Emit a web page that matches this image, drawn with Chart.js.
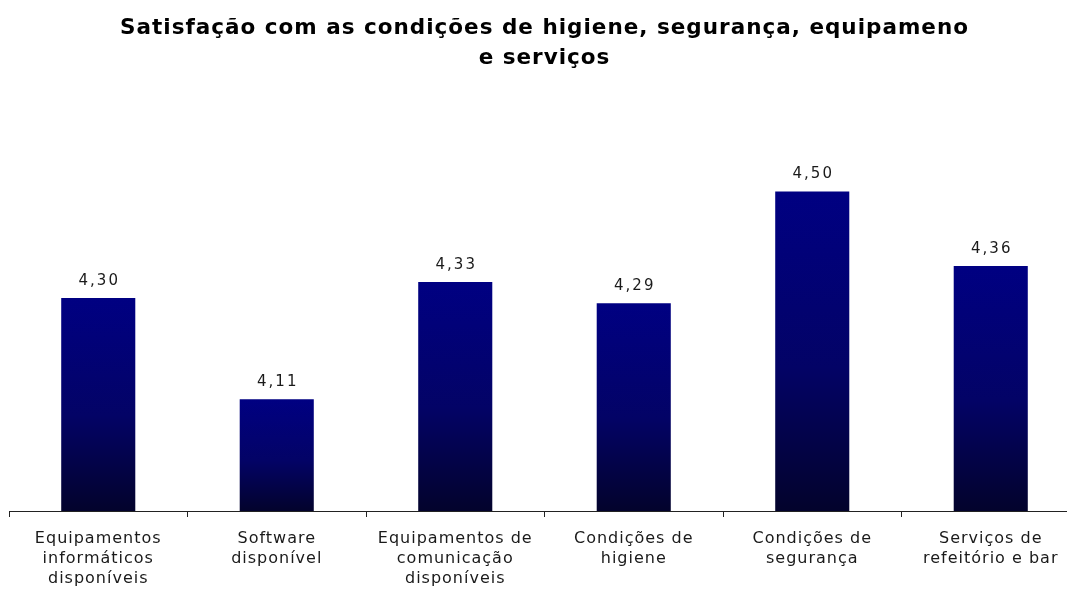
<!DOCTYPE html>
<html>
<head>
<meta charset="utf-8">
<script src="https://cdn.jsdelivr.net/npm/chart.js@4/dist/chart.umd.min.js"></script>
<style>
    html, body { margin: 0; padding: 0; background: #fff; overflow: hidden; }
    #wrap { width: 1090px; height: 601px; }
</style>
</head>
<body>
<div id="wrap"><canvas id="chart" width="1090" height="601"></canvas></div>
<script>
// Data
const categories = [
    ['Equipamentos', 'informáticos', 'disponíveis'],
    ['Software', 'disponível'],
    ['Equipamentos de', 'comunicação', 'disponíveis'],
    ['Condições de', 'higiene'],
    ['Condições de', 'segurança'],
    ['Serviços de', 'refeitório e bar']
];
const satisfaction = [4.30, 4.11, 4.33, 4.29, 4.50, 4.36];
const titleLines = [
    'Satisfação com as condições de higiene, segurança, equipameno',
    'e serviços'
];

const FONT = "'DejaVu Sans', sans-serif";

// vertical gradient for each bar: navy on top, near black at the base
function barFill(context) {
    const chart = context.chart;
    const area = chart.chartArea;
    if (!area || context.type !== 'data') return '#000080';
    const y = chart.scales.y;
    const top = y.getPixelForValue(context.raw);
    const bottom = y.getPixelForValue(y.min);
    const g = chart.ctx.createLinearGradient(0, top, 0, bottom);
    g.addColorStop(0, '#000082');
    g.addColorStop(0.55, '#030366');
    g.addColorStop(1, '#03032c');
    return g;
}

// the original font is a wide Verdana, so open up the DejaVu text a little
const wideText = {
    id: 'wideText',
    beforeUpdate(chart) { chart.ctx.letterSpacing = '1px'; },
    beforeDraw(chart) { chart.ctx.letterSpacing = '1px'; }
};

// value labels above the bars, comma as decimal separator
const valueLabels = {
    id: 'valueLabels',
    afterDatasetsDraw(chart) {
        const ctx = chart.ctx;
        const meta = chart.getDatasetMeta(0);
        ctx.save();
        ctx.letterSpacing = '2px';
        ctx.font = '15px ' + FONT;
        ctx.fillStyle = '#1a1a1a';
        ctx.textAlign = 'center';
        ctx.textBaseline = 'alphabetic';
        meta.data.forEach((bar, i) => {
            const text = satisfaction[i].toFixed(2).replace('.', ',');
            ctx.fillText(text, bar.x + 1, bar.y - 13);
        });
        ctx.restore();
    }
};

new Chart(document.getElementById('chart'), {
    type: 'bar',
    data: {
        labels: categories,
        datasets: [{
            data: satisfaction,
            backgroundColor: barFill,
            borderWidth: 0,
            barPercentage: 0.415,
            categoryPercentage: 1
        }]
    },
    options: {
        responsive: false,
        animation: false,
        layout: { padding: { left: 9, right: 10, top: 0, bottom: 0 } },
        plugins: {
            legend: { display: false },
            tooltip: { enabled: false },
            title: {
                display: true,
                text: titleLines,
                color: '#000',
                font: { family: FONT, size: 21.5, weight: 'bold', lineHeight: 1.4 },
                padding: { top: 13, bottom: 65 }
            }
        },
        scales: {
            x: {
                grid: {
                    display: true,
                    offset: true,
                    drawOnChartArea: false,
                    drawTicks: true,
                    tickLength: 6,
                    color: '#222'
                },
                border: { display: true, color: '#222', width: 1 },
                ticks: {
                    color: '#1a1a1a',
                    maxRotation: 0,
                    autoSkip: false,
                    padding: 12,
                    font: { family: FONT, size: 16, lineHeight: 1.25 }
                }
            },
            y: {
                display: false,
                min: 3.9,
                max: 4.6
            }
        }
    },
    plugins: [wideText, valueLabels]
});
</script>
</body>
</html>
